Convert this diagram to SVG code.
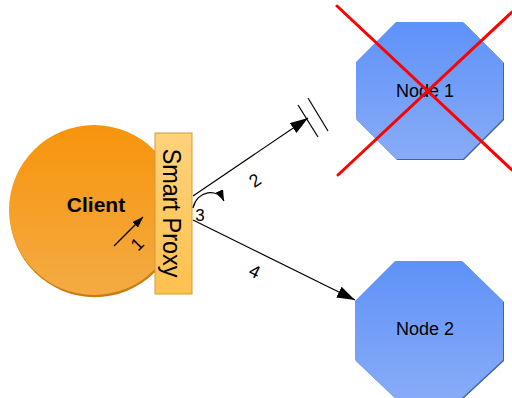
<svg xmlns="http://www.w3.org/2000/svg" width="512" height="398" viewBox="0 0 512 398">
  <defs>
    <linearGradient id="gClient" x1="0" y1="0" x2="0" y2="1">
      <stop offset="0" stop-color="#F7940C"/>
      <stop offset="1" stop-color="#F4AB43"/>
    </linearGradient>
    <linearGradient id="gProxy" x1="0" y1="0" x2="0" y2="1">
      <stop offset="0" stop-color="#FFD27C"/>
      <stop offset="1" stop-color="#FFC14F"/>
    </linearGradient>
    <linearGradient id="gNode" x1="0" y1="0" x2="0" y2="1">
      <stop offset="0" stop-color="#5E92F8"/>
      <stop offset="1" stop-color="#88ABF8"/>
    </linearGradient>
    <marker id="arrow" viewBox="0 0 18 12" refX="18" refY="6" markerWidth="18" markerHeight="12" markerUnits="userSpaceOnUse" orient="auto">
      <path d="M0,0 L18,6 L0,12 Z" fill="#000"/>
    </marker>
    <marker id="arrowSm" viewBox="0 0 11 8" refX="11" refY="4" markerWidth="11" markerHeight="8" markerUnits="userSpaceOnUse" orient="auto">
      <path d="M0,0 L11,4 L0,8 Z" fill="#000"/>
    </marker>
  </defs>
  <style>
    .lbl { font-family: "Liberation Sans", Arial, sans-serif; fill: #000; }
    .num { font-family: "Liberation Sans", Arial, sans-serif; fill: #000; font-size: 18px; text-anchor: middle; }
    .conn { stroke: #000; stroke-width: 1.2; fill: none; }
    .oct { fill: url(#gNode); }
    .octShadow { fill: #3F62A8; }
    .cross { stroke: #FF0000; stroke-width: 3; stroke-linecap: round; }
  </style>

  <!-- Client -->
  <g id="client">
    <circle cx="94" cy="211" r="85" fill="#C97A10" transform="translate(0.8,1.2)"/>
    <circle cx="94" cy="210" r="85" fill="url(#gClient)"/>
    <text class="lbl" x="96" y="212" font-size="21" font-weight="bold" text-anchor="middle">Client</text>
  </g>

  <!-- Smart Proxy -->
  <g id="proxy">
    <rect x="155" y="133" width="37" height="161" fill="url(#gProxy)" stroke="#D29A3E" stroke-width="1"/>
    <text class="lbl" font-size="26" text-anchor="middle" transform="translate(163,213) rotate(90) scale(0.9,1)">Smart Proxy</text>
  </g>

  <!-- Node 1 (crossed out) -->
  <g id="node1">
    <polygon class="octShadow" points="397,23 464,23 504,63 504,120 464,160 397,160 357,120 357,63"/>
    <polygon class="oct" points="396,22 463,22 503,62 503,119 463,159 396,159 356,119 356,62"/>
    <text class="lbl" x="425" y="97" font-size="18" text-anchor="middle">Node 1</text>
    <line class="cross" x1="337" y1="6" x2="512" y2="170"/>
    <line class="cross" x1="338" y1="175" x2="512" y2="12"/>
  </g>

  <!-- Node 2 -->
  <g id="node2">
    <polygon class="octShadow" points="396,262 463,262 504,302 504,361 463,399 396,399 356,361 356,302"/>
    <polygon class="oct" points="395,261 462,261 503,301 503,360 462,398 395,398 355,360 355,301"/>
    <text class="lbl" x="425" y="335" font-size="18" text-anchor="middle">Node 2</text>
  </g>

  <!-- Connectors -->
  <g id="connectors">
    <line class="conn" x1="114" y1="246" x2="143" y2="217" marker-end="url(#arrowSm)"/>
    <text class="num" transform="translate(141.5,248.5) rotate(-45)">1</text>

    <line class="conn" x1="193" y1="196" x2="308" y2="118" marker-end="url(#arrow)"/>
    <line class="conn" x1="298" y1="105" x2="318" y2="137"/>
    <line class="conn" x1="308" y1="98" x2="328" y2="131"/>
    <text class="num" transform="translate(258.5,185.5) rotate(-34)">2</text>

    <path class="conn" d="M193,208 C197,190 218,188 224,201" marker-end="url(#arrowSm)"/>
    <text class="lbl" x="200" y="221" font-size="17" text-anchor="middle">3</text>

    <line class="conn" x1="193" y1="220" x2="355" y2="300" marker-end="url(#arrow)"/>
    <text class="num" transform="translate(252,277) rotate(26)">4</text>
  </g>
</svg>
